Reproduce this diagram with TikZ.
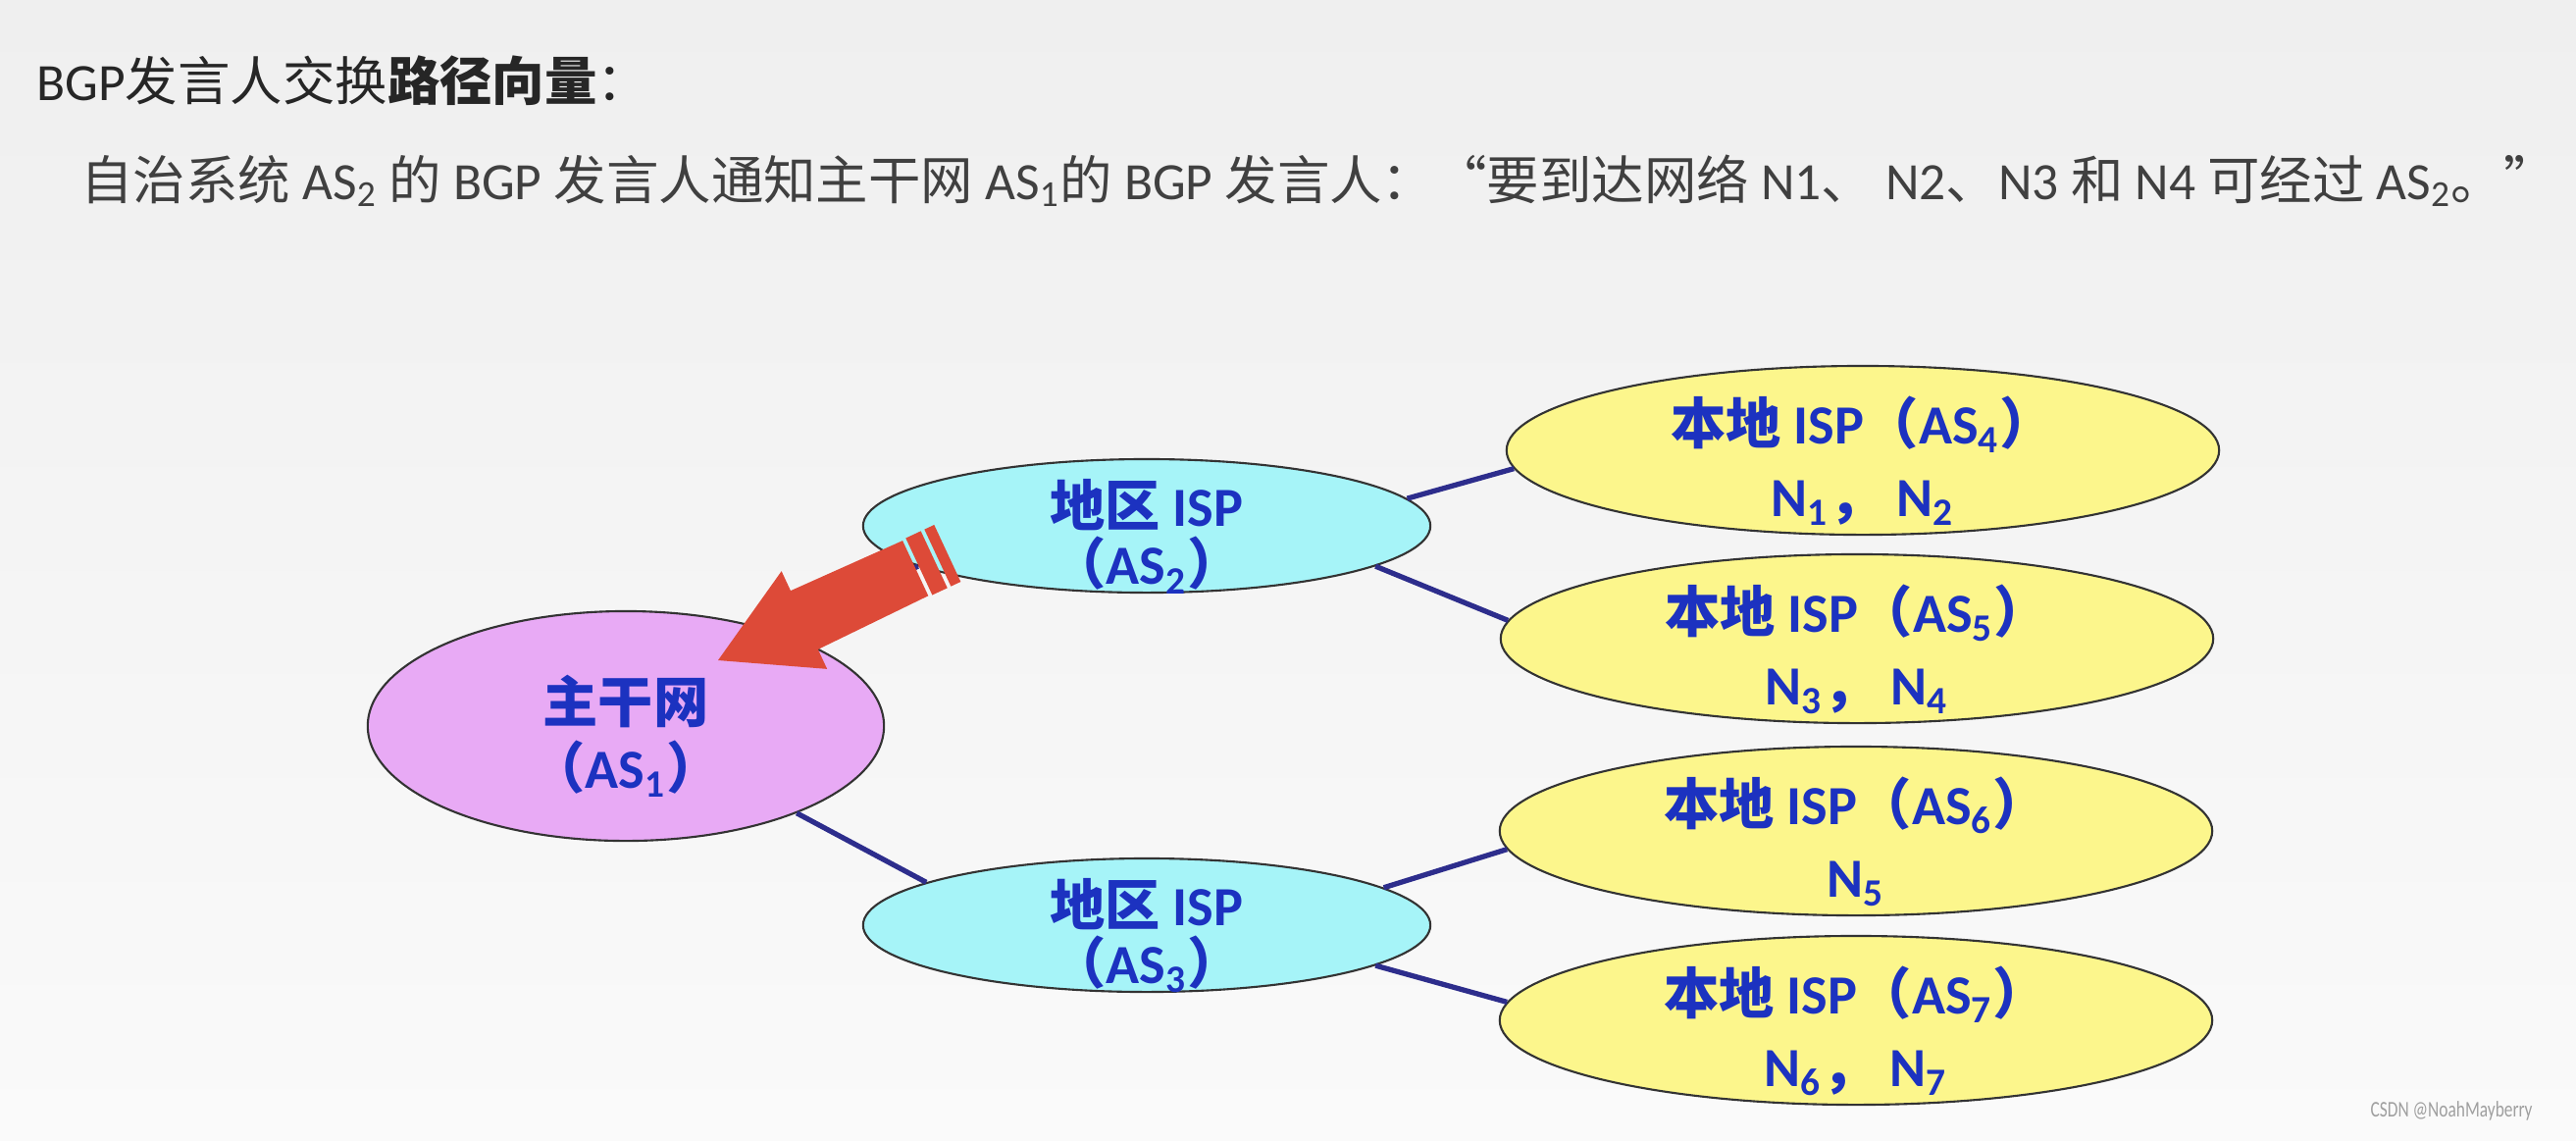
\documentclass[tikz,border=0pt]{standalone}
\usepackage{fontspec}
\setmainfont{Carlito}
\newfontfamily\cjk{Noto Sans CJK SC}
\usepackage{tikz}
\usetikzlibrary{shapes.geometric}

\definecolor{nodeblue}{RGB}{28,50,192}
\definecolor{linkblue}{RGB}{45,45,140}
\definecolor{arrowred}{RGB}{221,74,56}
\definecolor{corefill}{RGB}{232,170,245}
\definecolor{regfill}{RGB}{166,244,248}
\definecolor{locfill}{RGB}{252,246,140}
\definecolor{bgtop}{RGB}{239,239,239}
\definecolor{bgbot}{RGB}{250,250,250}

\newcommand{\AS}[1]{AS\textsubscript{#1}}
\newcommand{\Nn}[1]{N\textsubscript{#1}}

\begin{document}
\begin{tikzpicture}[x=0.01cm, y=-0.01cm,
oval/.style={ellipse, draw=black!80, line width=0.6pt, inner sep=0pt},
core/.style={oval, fill=corefill, minimum width=5.26cm, minimum height=2.34cm},
regional/.style={oval, fill=regfill, minimum width=5.78cm, minimum height=1.36cm},
local/.style={oval, fill=locfill, minimum width=7.26cm, minimum height=1.72cm},
inner/.style={text=nodeblue, font=\fontsize{16}{21}\selectfont\bfseries, align=center, yshift=-3pt},
link/.style={draw=linkblue, line width=1.5pt}
]

% Background and page size
\shade[top color=bgtop, bottom color=bgbot] (0,0) rectangle (2626,1162);
\useasboundingbox (0,0) rectangle (2626,1162);

% Heading lines
\node[anchor=west, text=black!85, font=\fontsize{15.2}{18}\selectfont] (title) at (25,82)
  {BGP{\cjk 发言人交换{\bfseries 路径向量}：}};
\node[anchor=west, text=black!75, font=\fontsize{15.2}{18}\selectfont] (note) at (70,184)
  {{\cjk 自治系统} \AS{2} {\cjk 的} BGP {\cjk 发言人通知主干网} \AS{1}{\cjk 的} BGP {\cjk 发言人：“要到达网络} N1{\cjk 、} N2{\cjk 、}N3 {\cjk 和} N4 {\cjk 可经过} \AS{2}{\cjk 。”}};

% Backbone
\node[core, label={[inner]center:{{\cjk 主干网}\\[-2pt]{\cjk （}\AS{1}{\cjk ）}}}] (as1) at (638,740) {};

% Regional ISPs
\node[regional, label={[inner]center:{{\cjk 地区} ISP\\[-4pt]{\cjk （}\AS{2}{\cjk ）}}}] (as2) at (1169,536) {};
\node[regional, label={[inner]center:{{\cjk 地区} ISP\\[-4pt]{\cjk （}\AS{3}{\cjk ）}}}] (as3) at (1169,943) {};

% Local ISPs
\node[local, label={[inner]center:{{\cjk 本地} ISP{\cjk （}\AS{4}{\cjk ）}\\\Nn{1}{\cjk ，} \Nn{2}}}] (as4) at (1899,459) {};
\node[local, label={[inner]center:{{\cjk 本地} ISP{\cjk （}\AS{5}{\cjk ）}\\\Nn{3}{\cjk ，} \Nn{4}}}] (as5) at (1893,651) {};
\node[local, label={[inner]center:{{\cjk 本地} ISP{\cjk （}\AS{6}{\cjk ）}\\\Nn{5}}}] (as6) at (1892,847) {};
\node[local, label={[inner]center:{{\cjk 本地} ISP{\cjk （}\AS{7}{\cjk ）}\\\Nn{6}{\cjk ，} \Nn{7}}}] (as7) at (1892,1040) {};

% Links
\draw[link] (as1.31) -- (as2.190);
\draw[link] (as1.333) -- (as3.169);
\draw[link] (as2.6) -- (as4.183);
\draw[link] (as2.350) -- (as5.177);
\draw[link] (as3.9) -- (as6.183);
\draw[link] (as3.350) -- (as7.177);

% Striped arrow AS2 -> AS1
\begin{scope}[shift={(732,673)}, rotate=25]
  \fill[arrowred] (0,0) -- (97,55) -- (97,33) -- (222,31) -- (222,-31) -- (97,-33) -- (97,-55) -- cycle;
  \fill[arrowred] (226,-32) rectangle (243,32);
  \fill[arrowred] (247,-32) rectangle (258,32);
\end{scope}

% Watermark
\node[anchor=east, text=gray!75, font=\fontsize{6.5}{8}\selectfont] (mark) at (2594,1132) {\scalebox{0.76}[1]{CSDN @NoahMayberry}};

\end{tikzpicture}
\end{document}
